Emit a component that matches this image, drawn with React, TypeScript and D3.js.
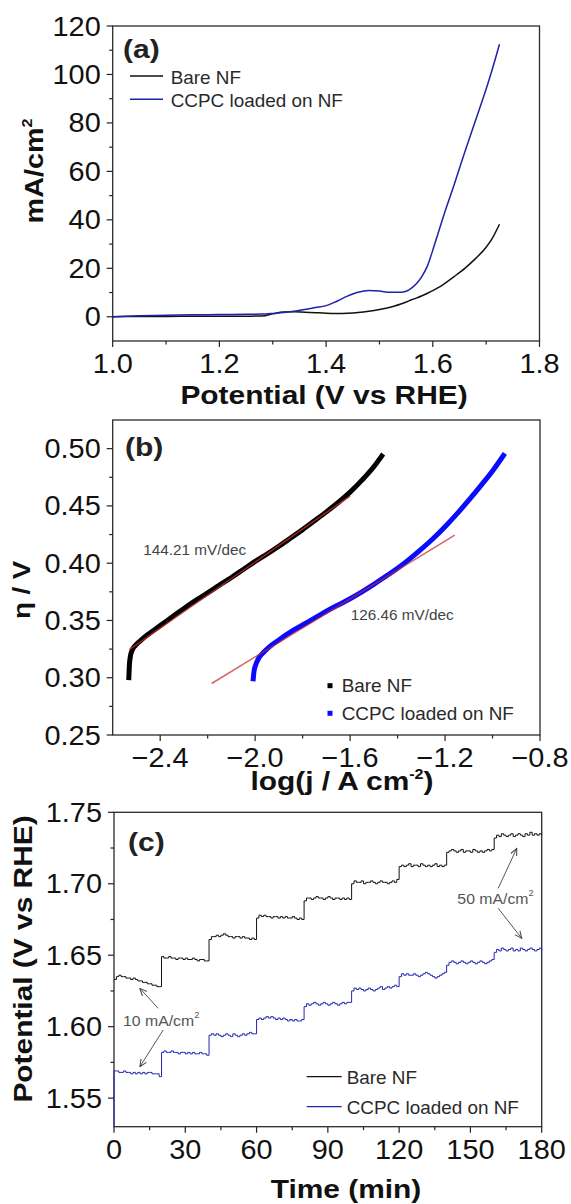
import React from 'react';
import * as d3 from 'd3';

const W = 571;
const H = 1204;
const FONT = "'Liberation Sans', Arial, Helvetica, sans-serif";

// ---------- Panel (a): LSV ----------
const LSV_POTENTIAL = [1.0, 1.05, 1.1, 1.15, 1.2, 1.25, 1.28, 1.3, 1.32, 1.34, 1.36, 1.38, 1.4, 1.42, 1.44, 1.46, 1.48, 1.5, 1.52, 1.54, 1.55, 1.56, 1.57, 1.58, 1.59, 1.6, 1.61, 1.62, 1.64, 1.66, 1.68, 1.7, 1.71, 1.725];
const LSV_BARE_NF = [0, 0.1, 0.15, 0.2, 0.2, 0.25, 0.3, 1.2, 2.0, 2.1, 1.9, 1.7, 1.5, 1.4, 1.5, 1.8, 2.3, 3.0, 3.9, 5.3, 6.1, 7.0, 7.8, 8.7, 9.7, 10.8, 12.0, 13.4, 16.6, 20.0, 24.0, 28.7, 31.8, 38.2];
const LSV_CCPC = [0, 0.4, 0.6, 0.8, 0.9, 1.0, 1.1, 1.4, 1.8, 2.3, 3.0, 3.8, 4.6, 6.4, 8.5, 10.1, 10.8, 10.6, 10.1, 10.1, 10.5, 11.8, 13.8, 16.8, 21.0, 27.5, 34.5, 41.5, 54.5, 68, 81, 94, 101, 112.5];
const A_X_MAJOR = [1.0, 1.2, 1.4, 1.6, 1.8];
const A_X_MINOR = [1.1, 1.3, 1.5, 1.7];
const A_Y_MAJOR = [0, 20, 40, 60, 80, 100, 120];
const A_Y_MINOR = [10, 30, 50, 70, 90, 110];

// ---------- Panel (b): Tafel ----------
const TAFEL_BARE_LOGJ = [-2.532, -2.53, -2.526, -2.518, -2.505, -2.485, -2.45, -2.4, -2.35, -2.3, -2.25, -2.2, -2.15, -2.1, -2.05, -2.0, -1.95, -1.9, -1.85, -1.8, -1.75, -1.7, -1.65, -1.6, -1.55, -1.5, -1.467];
const TAFEL_BARE_ETA = [0.3, 0.31, 0.318, 0.324, 0.328, 0.332, 0.338, 0.3455, 0.353, 0.3605, 0.3675, 0.374, 0.3808, 0.3875, 0.3945, 0.4015, 0.408, 0.4148, 0.422, 0.4293, 0.437, 0.4448, 0.453, 0.462, 0.4725, 0.4842, 0.4935];
const TAFEL_CCPC_LOGJ = [-2.008, -2.005, -1.998, -1.985, -1.965, -1.94, -1.9, -1.85, -1.8, -1.75, -1.7, -1.65, -1.6, -1.55, -1.5, -1.45, -1.4, -1.35, -1.3, -1.25, -1.2, -1.15, -1.1, -1.05, -1.0, -0.954];
const TAFEL_CCPC_ETA = [0.299, 0.305, 0.311, 0.317, 0.322, 0.327, 0.333, 0.34, 0.346, 0.352, 0.358, 0.3635, 0.369, 0.375, 0.3815, 0.3885, 0.3955, 0.4035, 0.4122, 0.4215, 0.4318, 0.443, 0.455, 0.4675, 0.4805, 0.494];
const FIT_BARE = [[-2.53, 0.3245], [-1.6, 0.4586]];
const FIT_CCPC = [[-2.183, 0.295], [-1.159, 0.4245]];
const SLOPE_LABELS = [
  { text: '144.21 mV/dec', x: -2.471, y: 0.4069 },
  { text: '126.46 mV/dec', x: -1.597, y: 0.3503 },
];
const B_X_MAJOR = [-2.4, -2.0, -1.6, -1.2, -0.8];
const B_X_MINOR = [-2.2, -1.8, -1.4, -1.0];
const B_Y_MAJOR = [0.25, 0.3, 0.35, 0.4, 0.45, 0.5];
const B_Y_MINOR = [0.275, 0.325, 0.375, 0.425, 0.475];

// ---------- Panel (c): chronopotentiometry (one reading per minute, 20-min steps) ----------
const BARE_NF_STEPS = [
  [1.633, 1.635, 1.636, 1.635, 1.635, 1.634, 1.634, 1.633, 1.634, 1.633, 1.632, 1.632, 1.631, 1.631, 1.630, 1.630, 1.629, 1.629, 1.628, 1.628],
  [1.649, 1.648, 1.648, 1.649, 1.648, 1.648, 1.647, 1.648, 1.648, 1.647, 1.648, 1.647, 1.647, 1.648, 1.647, 1.646, 1.647, 1.647, 1.646, 1.646],
  [1.661, 1.663, 1.663, 1.664, 1.663, 1.664, 1.665, 1.664, 1.663, 1.663, 1.662, 1.663, 1.663, 1.662, 1.663, 1.662, 1.662, 1.661, 1.662, 1.661],
  [1.676, 1.678, 1.677, 1.678, 1.677, 1.677, 1.676, 1.677, 1.677, 1.676, 1.677, 1.676, 1.677, 1.676, 1.676, 1.677, 1.676, 1.675, 1.676, 1.675],
  [1.688, 1.690, 1.690, 1.689, 1.690, 1.691, 1.690, 1.690, 1.689, 1.690, 1.691, 1.690, 1.689, 1.690, 1.690, 1.689, 1.690, 1.689, 1.690, 1.689],
  [1.700, 1.702, 1.701, 1.701, 1.702, 1.700, 1.701, 1.701, 1.702, 1.701, 1.700, 1.701, 1.702, 1.701, 1.701, 1.700, 1.701, 1.702, 1.701, 1.703],
  [1.712, 1.713, 1.712, 1.713, 1.714, 1.712, 1.713, 1.713, 1.712, 1.714, 1.713, 1.712, 1.713, 1.712, 1.713, 1.714, 1.712, 1.713, 1.712, 1.713],
  [1.722, 1.723, 1.724, 1.723, 1.722, 1.723, 1.724, 1.722, 1.723, 1.723, 1.722, 1.724, 1.723, 1.722, 1.723, 1.722, 1.723, 1.724, 1.723, 1.724],
  [1.732, 1.734, 1.733, 1.735, 1.734, 1.733, 1.734, 1.735, 1.733, 1.734, 1.735, 1.734, 1.733, 1.735, 1.734, 1.736, 1.734, 1.735, 1.734, 1.735, 1.734],
];
const CCPC_STEPS = [
  [1.569, 1.569, 1.568, 1.568, 1.569, 1.568, 1.568, 1.567, 1.568, 1.567, 1.568, 1.567, 1.568, 1.567, 1.568, 1.568, 1.567, 1.567, 1.567, 1.565],
  [1.582, 1.583, 1.582, 1.582, 1.583, 1.582, 1.582, 1.581, 1.582, 1.582, 1.581, 1.582, 1.581, 1.582, 1.581, 1.581, 1.582, 1.581, 1.581, 1.580],
  [1.594, 1.595, 1.594, 1.595, 1.594, 1.593, 1.594, 1.595, 1.594, 1.593, 1.595, 1.594, 1.593, 1.594, 1.595, 1.594, 1.595, 1.596, 1.595, 1.595],
  [1.605, 1.606, 1.605, 1.606, 1.607, 1.606, 1.607, 1.606, 1.605, 1.606, 1.605, 1.606, 1.605, 1.604, 1.605, 1.604, 1.605, 1.604, 1.604, 1.605],
  [1.614, 1.616, 1.615, 1.616, 1.617, 1.616, 1.615, 1.616, 1.617, 1.616, 1.615, 1.616, 1.617, 1.616, 1.615, 1.616, 1.617, 1.616, 1.617, 1.617],
  [1.625, 1.627, 1.626, 1.627, 1.626, 1.625, 1.626, 1.627, 1.626, 1.625, 1.626, 1.627, 1.628, 1.626, 1.627, 1.628, 1.627, 1.628, 1.629, 1.628],
  [1.635, 1.637, 1.636, 1.637, 1.636, 1.636, 1.637, 1.636, 1.635, 1.636, 1.637, 1.638, 1.637, 1.636, 1.635, 1.634, 1.635, 1.636, 1.637, 1.638],
  [1.643, 1.645, 1.646, 1.645, 1.644, 1.645, 1.646, 1.645, 1.644, 1.645, 1.646, 1.645, 1.644, 1.645, 1.646, 1.645, 1.644, 1.645, 1.646, 1.647],
  [1.652, 1.654, 1.653, 1.655, 1.654, 1.653, 1.654, 1.655, 1.653, 1.654, 1.653, 1.655, 1.654, 1.653, 1.654, 1.655, 1.654, 1.653, 1.654, 1.655, 1.653],
];
const CCPC_START_POTENTIAL = 1.53;
const STEP_MINUTES = 20;
const C_ANNOTATIONS = [
  { text: '10 mA/cm', x: 3.8, y: 1.6005 },
  { text: '50 mA/cm', x: 144.5, y: 1.6858 },
];
const C_ARROWS = [
  [[18.6, 1.6128], [10.9, 1.6268]],
  [[20.7, 1.5977], [10.9, 1.572]],
  [[161.7, 1.6968], [169.5, 1.7248]],
  [[161.7, 1.6828], [171.6, 1.6618]],
];
const C_X_MAJOR = [0, 30, 60, 90, 120, 150, 180];
const C_X_MINOR = [15, 45, 75, 105, 135, 165];
const C_Y_MAJOR = [1.55, 1.6, 1.65, 1.7, 1.75];
const C_Y_MINOR = [1.575, 1.625, 1.675, 1.725];

const SERIES = ['Bare NF', 'CCPC loaded on NF'];

// ---------- helpers ----------
type TxtProps = {
  x: number; y: number; size: number; sx?: number; rot?: number;
  anchor?: string; weight?: number | string; fill?: string; children?: React.ReactNode;
};
const Txt = ({ x, y, size, sx = 1, rot = 0, anchor = 'start', weight = 400, fill = '#111', children }: TxtProps) => (
  <text
    transform={`translate(${x},${y}) rotate(${rot}) scale(${sx},1)`}
    fontSize={size}
    fontWeight={weight as any}
    textAnchor={anchor as any}
    fill={fill}
    fontFamily={FONT}
  >
    {children}
  </text>
);

const TICK_SIZE = 27;
const TICK_SX = 1.07;

function Axes({ x, y, xMajor, xMinor, yMajor, yMinor, xFmt, yFmt }: any) {
  const [x0, x1] = x.range();
  const [y0, y1] = y.range();
  const stroke = '#222';
  return (
    <g>
      {xMajor.map((v: number) => (
        <g key={'xM' + v}>
          <line x1={x(v)} x2={x(v)} y1={y0} y2={y0 + 6} stroke={stroke} strokeWidth={1.2} />
          <Txt x={x(v)} y={y0 + 32} size={TICK_SIZE} sx={TICK_SX} anchor="middle">{xFmt(v)}</Txt>
        </g>
      ))}
      {xMinor.map((v: number) => (
        <line key={'xm' + v} x1={x(v)} x2={x(v)} y1={y0} y2={y0 + 3.5} stroke={stroke} strokeWidth={1.2} />
      ))}
      {yMajor.map((v: number) => (
        <g key={'yM' + v}>
          <line x1={x0 - 6} x2={x0} y1={y(v)} y2={y(v)} stroke={stroke} strokeWidth={1.2} />
          <Txt x={x0 - 12} y={y(v) + 9.5} size={TICK_SIZE} sx={TICK_SX} anchor="end">{yFmt(v)}</Txt>
        </g>
      ))}
      {yMinor.map((v: number) => (
        <line key={'ym' + v} x1={x0 - 3.5} x2={x0} y1={y(v)} y2={y(v)} stroke={stroke} strokeWidth={1.2} />
      ))}
      <rect x={x0} y={y1} width={x1 - x0} height={y0 - y1} fill="none" stroke="#2a2a2a" strokeWidth={1.3} />
    </g>
  );
}

export default function App() {
  // Panel a scales
  const ax = d3.scaleLinear().domain([1.0, 1.8]).range([112.7, 539.5]);
  const ay = d3.scaleLinear().domain([-10, 120]).range([341, 26]);
  const lsvLine = d3.line<[number, number]>().x(d => ax(d[0])).y(d => ay(d[1])).curve(d3.curveMonotoneX);
  const bareLsv = LSV_POTENTIAL.map((v, i) => [v, LSV_BARE_NF[i]] as [number, number]);
  const ccpcLsv = LSV_POTENTIAL.map((v, i) => [v, LSV_CCPC[i]] as [number, number]);

  // Panel b scales
  const bx = d3.scaleLinear().domain([-2.6, -0.8]).range([112.7, 540]);
  const by = d3.scaleLinear().domain([0.25, 0.525]).range([735, 420]);
  const tafelLine = d3.line<[number, number]>().x(d => bx(d[0])).y(d => by(d[1])).curve(d3.curveMonotoneX);
  const bareTafel = TAFEL_BARE_LOGJ.map((v, i) => [v, TAFEL_BARE_ETA[i]] as [number, number]);
  const ccpcTafel = TAFEL_CCPC_LOGJ.map((v, i) => [v, TAFEL_CCPC_ETA[i]] as [number, number]);
  const fitLine = d3.line<number[]>().x(d => bx(d[0])).y(d => by(d[1]));

  // Panel c scales
  const cx = d3.scaleLinear().domain([0, 180]).range([114, 541.7]);
  const cy = d3.scaleLinear().domain([1.53, 1.75]).range([1126.7, 812.3]);
  const toSeries = (steps: number[][]) => {
    const out: [number, number][] = [];
    steps.forEach((seg, k) => seg.forEach((v, i) => out.push([k * STEP_MINUTES + i, v])));
    return out;
  };
  const bareCp = toSeries(BARE_NF_STEPS);
  const ccpcCp: [number, number][] = [[0, CCPC_START_POTENTIAL], ...toSeries(CCPC_STEPS)];
  const cpLine = d3.line<[number, number]>().x(d => cx(d[0])).y(d => cy(d[1])).curve(d3.curveStepAfter);
  const arrowLine = d3.line<number[]>().x(d => cx(d[0])).y(d => cy(d[1]));

  const f1 = d3.format('.1f');
  const f2 = d3.format('.2f');
  const fi = d3.format('d');

  const BLACK = '#111111';
  const BLUE_A = '#2020a8';
  const BLUE_B = '#0a0aff';
  const BLUE_C = '#2424b4';
  const RED = '#c0282d';
  const LEG_FILL = '#2a2a2a';

  return (
    <svg width={W} height={H} viewBox={`0 0 ${W} ${H}`} style={{ position: 'absolute', left: 0, top: 0, background: '#fff' }}>
      <defs>
        <marker id="arrowHead" viewBox="0 0 10 10" refX="9" refY="5" markerWidth="8" markerHeight="8" markerUnits="userSpaceOnUse" orient="auto">
          <path d="M0,1 L9,5 L0,9" fill="none" stroke="#444" strokeWidth="1.3" />
        </marker>
      </defs>
      <rect x={0} y={0} width={W} height={H} fill="#fff" />

      {/* ---------------- Panel (a) ---------------- */}
      <Axes x={ax} y={ay} xMajor={A_X_MAJOR} xMinor={A_X_MINOR} yMajor={A_Y_MAJOR} yMinor={A_Y_MINOR} xFmt={f1} yFmt={fi} />
      <path d={lsvLine(bareLsv) || ''} fill="none" stroke={BLACK} strokeWidth={1.5} />
      <path d={lsvLine(ccpcLsv) || ''} fill="none" stroke={BLUE_A} strokeWidth={1.5} />
      <Txt x={123} y={58} size={25} sx={1.2} weight="bold" fill="#222">(a)</Txt>
      <line x1={130} x2={163} y1={76} y2={76} stroke={BLACK} strokeWidth={1.5} />
      <Txt x={170.7} y={83.5} size={18} sx={1.05} fill={LEG_FILL}>{SERIES[0]}</Txt>
      <line x1={130} x2={163} y1={99.3} y2={99.3} stroke={BLUE_A} strokeWidth={1.5} />
      <Txt x={170.7} y={106.8} size={18} sx={1.05} fill={LEG_FILL}>{SERIES[1]}</Txt>
      <Txt x={324} y={404} size={26} sx={1.15} weight="bold" anchor="middle">Potential (V vs RHE)</Txt>
      <Txt x={43} y={171} size={25} sx={1.15} rot={-90} weight="bold" anchor="middle">
        mA/cm<tspan dy={-11} fontSize={14}>2</tspan>
      </Txt>

      {/* ---------------- Panel (b) ---------------- */}
      <Axes x={bx} y={by} xMajor={B_X_MAJOR} xMinor={B_X_MINOR} yMajor={B_Y_MAJOR} yMinor={B_Y_MINOR} xFmt={f1} yFmt={f2} />
      <path d={tafelLine(bareTafel) || ''} fill="none" stroke="#000" strokeWidth={5} strokeLinecap="square" />
      <path d={tafelLine(ccpcTafel) || ''} fill="none" stroke={BLUE_B} strokeWidth={5} strokeLinecap="square" />
      <path d={fitLine(FIT_BARE) || ''} fill="none" stroke={RED} strokeOpacity={0.85} strokeWidth={1.4} />
      <path d={fitLine(FIT_CCPC) || ''} fill="none" stroke={RED} strokeOpacity={0.7} strokeWidth={1.6} />
      {SLOPE_LABELS.map(s => (
        <Txt key={s.text} x={bx(s.x)} y={by(s.y)} size={15} sx={1.02} fill="#444">{s.text}</Txt>
      ))}
      <Txt x={125} y={456} size={25} sx={1.2} weight="bold" fill="#222">(b)</Txt>
      <rect x={327.5} y={683.2} width={5} height={5} fill="#000" />
      <Txt x={341.7} y={692} size={18} sx={1.05} fill={LEG_FILL}>{SERIES[0]}</Txt>
      <rect x={327.5} y={710.8} width={5} height={5} fill={BLUE_B} />
      <Txt x={341.7} y={720} size={18} sx={1.05} fill={LEG_FILL}>{SERIES[1]}</Txt>
      <Txt x={342} y={790} size={26} sx={1.15} weight="bold" anchor="middle">
        log(j / A cm<tspan dy={-11} fontSize={14}>-2</tspan><tspan dy={11}>)</tspan>
      </Txt>
      <Txt x={30} y={590} size={23} sx={1.2} rot={-90} weight="bold" anchor="middle">η / V</Txt>

      {/* ---------------- Panel (c) ---------------- */}
      <Axes x={cx} y={cy} xMajor={C_X_MAJOR} xMinor={C_X_MINOR} yMajor={C_Y_MAJOR} yMinor={C_Y_MINOR} xFmt={fi} yFmt={f2} />
      <path d={cpLine(bareCp) || ''} fill="none" stroke={BLACK} strokeWidth={1} />
      <path d={cpLine(ccpcCp) || ''} fill="none" stroke={BLUE_C} strokeWidth={1} />
      {C_ARROWS.map((a, i) => (
        <path key={'arr' + i} d={arrowLine(a) || ''} fill="none" stroke="#444" strokeWidth={0.9} markerEnd="url(#arrowHead)" />
      ))}
      {C_ANNOTATIONS.map(a => (
        <Txt key={a.text + a.x} x={cx(a.x)} y={cy(a.y)} size={15.5} sx={1.02} fill="#555">
          {a.text}<tspan dy={-8} fontSize={9}>2</tspan>
        </Txt>
      ))}
      <Txt x={128} y={851} size={25} sx={1.2} weight="bold" fill="#222">(c)</Txt>
      <line x1={306.7} x2={341.7} y1={1076.7} y2={1076.7} stroke={BLACK} strokeWidth={1.3} />
      <Txt x={346.7} y={1084} size={18} sx={1.05} fill={LEG_FILL}>{SERIES[0]}</Txt>
      <line x1={306.7} x2={341.7} y1={1106.7} y2={1106.7} stroke={BLUE_C} strokeWidth={1.3} />
      <Txt x={346.7} y={1114} size={18} sx={1.05} fill={LEG_FILL}>{SERIES[1]}</Txt>
      <Txt x={346} y={1198} size={26} sx={1.15} weight="bold" anchor="middle">Time (min)</Txt>
      <Txt x={32} y={959} size={26} sx={1.15} rot={-90} weight="bold" anchor="middle">Potential (V vs RHE)</Txt>
    </svg>
  );
}
